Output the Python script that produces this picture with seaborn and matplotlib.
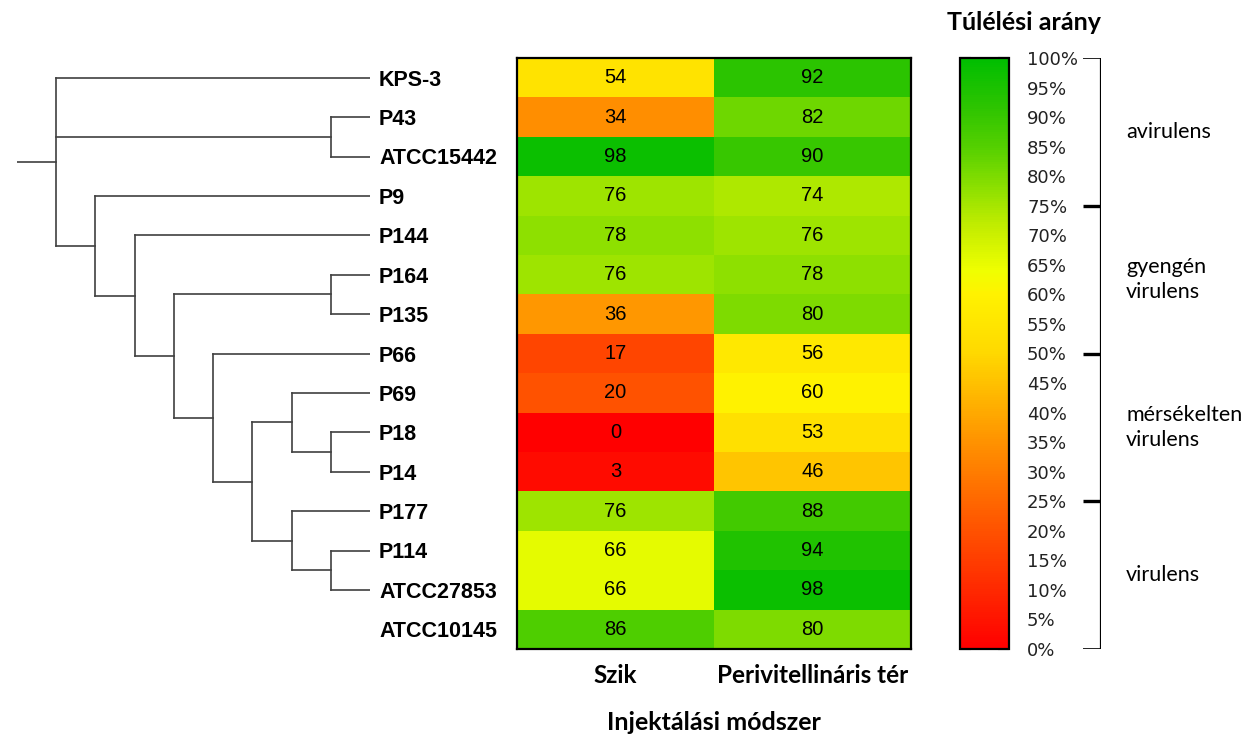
import numpy as np
import pandas as pd
import seaborn as sns
import matplotlib.pyplot as plt
from matplotlib.colors import LinearSegmentedColormap

# data
strains = ["KPS-3", "P43", "ATCC15442", "P9", "P144", "P164", "P135", "P66",
           "P69", "P18", "P14", "P177", "P114", "ATCC27853", "ATCC10145"]
szik = [54, 34, 98, 76, 78, 76, 36, 17, 20, 0, 3, 76, 66, 66, 86]
peri = [92, 82, 90, 74, 76, 78, 80, 56, 60, 53, 46, 88, 94, 98, 80]
methods = ["Szik", "Perivitellináris tér"]

# dendrogram merges: (node, children, height)
merges = [
    ("n0", ["P43", "ATCC15442"], 1),
    ("n1", ["P164", "P135"], 1),
    ("n2", ["P18", "P14"], 1),
    ("n3", ["P114", "ATCC27853"], 1),
    ("n4", ["P69", "n2"], 2),
    ("n5", ["P177", "n3"], 2),
    ("n6", ["n4", "n5"], 3),
    ("n7", ["P66", "n6"], 4),
    ("n8", ["n1", "n7"], 5),
    ("n9", ["P144", "n8"], 6),
    ("n10", ["P9", "n9"], 7),
    ("root", ["KPS-3", "n0", "n10"], 8),
]
root_stub = 9

classes = ["avirulens", "gyengén\nvirulens", "mérsékelten\nvirulens", "virulens"]
class_bounds = [100, 75, 50, 25, 0]

cmap_nodes = [
    (0.00, "#ff0000"),
    (0.20, "#ff5200"),
    (0.35, "#ff9200"),
    (0.50, "#ffd800"),
    (0.60, "#fff200"),
    (0.64, "#f0ff00"),
    (0.72, "#c0ec00"),
    (0.78, "#8ee000"),
    (0.85, "#55d000"),
    (0.92, "#2cc400"),
    (1.00, "#00be00"),
]
cmap = LinearSegmentedColormap.from_list("surv", cmap_nodes)

sns.set_style("white")
plt.rcParams["font.family"] = ["Liberation Sans", "DejaVu Sans"]
plt.rcParams["text.color"] = "black"
plt.rcParams["axes.labelcolor"] = "black"
plt.rcParams["xtick.color"] = "black"
plt.rcParams["ytick.color"] = "black"

W, H = 1259, 736
fig = plt.figure(figsize=(W / 100, H / 100), dpi=100)


def box(x0, y0, x1, y1):
    return [x0 / W, 1 - y1 / H, (x1 - x0) / W, (y1 - y0) / H]


hax = fig.add_axes(box(517, 58, 911, 649))
cax = fig.add_axes(box(960, 58, 1009, 649))
dax = fig.add_axes(box(17, 58, 370, 649))
bax = fig.add_axes(box(1083, 58, 1101, 649))

df = pd.DataFrame({methods[0]: szik, methods[1]: peri}, index=strains)

sns.heatmap(
    df, ax=hax, cmap=cmap, vmin=0, vmax=100, annot=True, fmt="d",
    annot_kws={"size": 14.5, "color": "black", "family": "Liberation Sans"},
    cbar_ax=cax, yticklabels=False,
)
for sp in hax.spines.values():
    sp.set_visible(True)
    sp.set_linewidth(1.6)
    sp.set_color("black")
hax.set_ylabel("")
hax.set_xticklabels(methods, rotation=0, fontsize=17.5, fontweight="bold", family="Lato")
hax.tick_params(axis="x", length=0, pad=11)
hax.set_xlabel("Injektálási módszer", fontsize=18, fontweight="bold", family="Lato", labelpad=17)

# colorbar
cb = hax.collections[0].colorbar
ticks = list(range(0, 101, 5))
cb.set_ticks(ticks)
cb.set_ticklabels([f"{t}%" for t in ticks])
cb.outline.set_linewidth(1.6)
cb.outline.set_edgecolor("black")
cax.tick_params(axis="y", direction="in", left=True, right=True, length=8, width=1.5,
                labelleft=False, labelright=True, pad=13, labelsize=13, colors="black")
for lab in cax.get_yticklabels():
    lab.set_family("DejaVu Sans")
    lab.set_color("#222222")

# bracket with classes
bax.set_xlim(0, 1)
bax.set_ylim(0, 100)
bax.axis("off")
bax.plot([1, 1], [0, 100], color="black", lw=1.6, solid_capstyle="butt")
for b in class_bounds:
    bax.plot([0, 1], [b, b], color="black", lw=1.2 if b in (0, 100) else 2.4, solid_capstyle="butt")
for i, name in enumerate(classes):
    mid = (class_bounds[i] + class_bounds[i + 1]) / 2
    bax.text(2.4, mid, name, ha="left", va="center", fontsize=15.5, family="Lato",
             linespacing=1.3, clip_on=False)

fig.text(1024 / W, 1 - 22 / H, "Túlélési arány", ha="center", va="center",
         fontsize=18, fontweight="bold", family="Lato")

# dendrogram
ypos = {name: i + 0.5 for i, name in enumerate(strains)}
hgt = {name: 0 for name in strains}
line_kw = dict(color="#404040", lw=1.2, solid_capstyle="projecting")
for node, kids, h in merges:
    ys = [ypos[k] for k in kids]
    for k in kids:
        dax.plot([hgt[k], h], [ypos[k], ypos[k]], **line_kw)
    dax.plot([h, h], [min(ys), max(ys)], **line_kw)
    ypos[node] = (min(ys) + max(ys)) / 2
    hgt[node] = h
dax.plot([hgt["root"], root_stub], [ypos["root"], ypos["root"]], **line_kw)
dax.set_xlim(root_stub, 0)
dax.set_ylim(len(strains), 0)
for sp in dax.spines.values():
    sp.set_visible(False)
dax.set_xticks([])
dax.yaxis.tick_right()
dax.set_yticks([i + 0.5 for i in range(len(strains))])
dax.set_yticklabels(strains, fontsize=15.5, fontweight="bold", color="black")
dax.tick_params(axis="y", length=0, pad=6.5)

fig.savefig("out.png", dpi=100)
